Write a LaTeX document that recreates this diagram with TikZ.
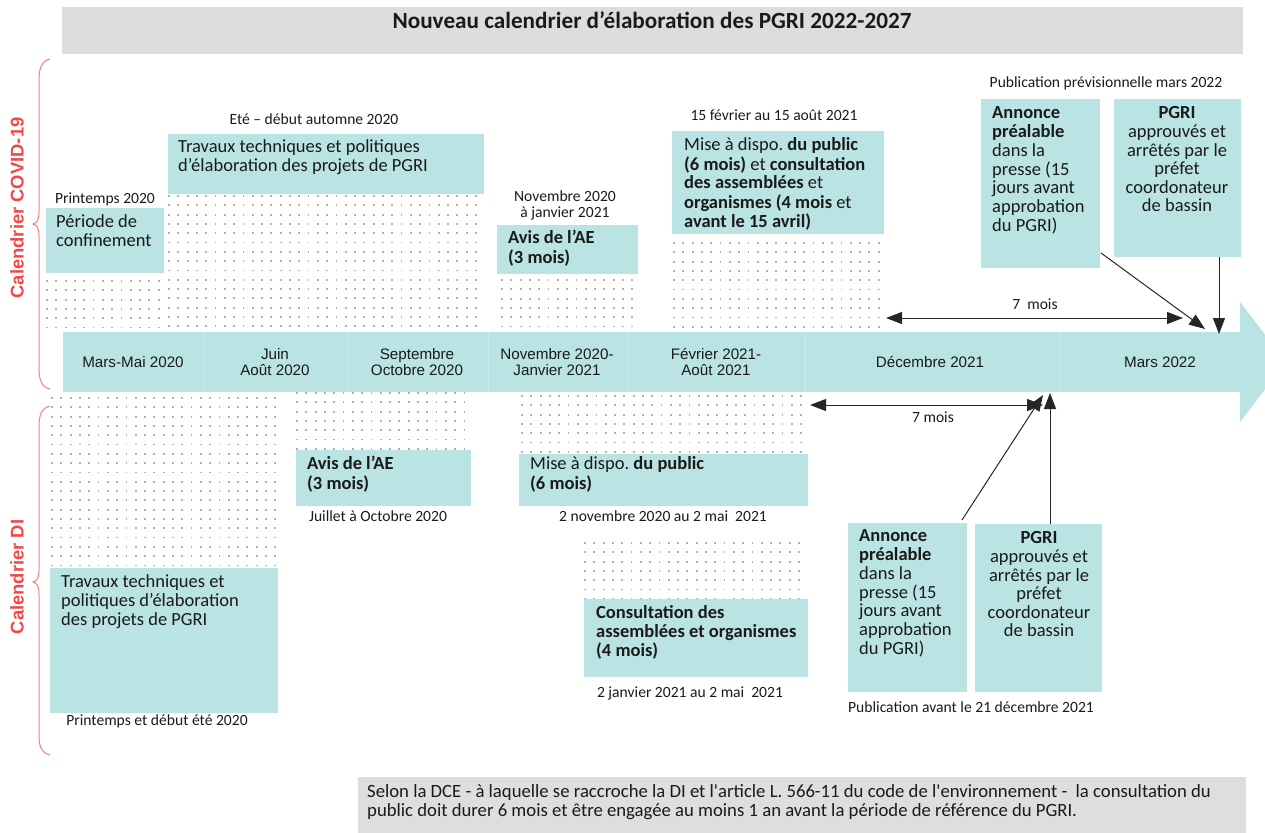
\documentclass[tikz,border=0pt]{standalone}
\usepackage{fontspec}
\setmainfont{Carlito}
\newfontfamily\arialf{Liberation Sans}
\newfontfamily\cplain{Carlito}[Ligatures=TeXOff]
\usetikzlibrary{arrows.meta}
\definecolor{boxc}{HTML}{BAE3E3}
\definecolor{sepc}{HTML}{CDEBEB}
\definecolor{dotc}{HTML}{B2B2B2}
\definecolor{titlec}{HTML}{DDDDDD}
\definecolor{notec}{HTML}{DEDEDE}
\definecolor{redt}{HTML}{F04848}
\definecolor{bracec}{HTML}{F58080}
\definecolor{txtc}{HTML}{1A1A1A}
\newcommand{\mytl}[1]{\begin{tabular}[t]{@{}l@{}}#1\end{tabular}}
\newcommand{\mytc}[1]{\begin{tabular}[t]{@{}c@{}}#1\end{tabular}}
\newcommand{\dotgrid}[4]{%
  \foreach \ii in {0,...,#3}{\foreach \jj in {0,...,#4}{%
    \fill[dotc] ({#1+\ii*9.3-0.9},{#2+\jj*9.3-0.9}) rectangle ++(1.8,1.8);}}}
\newcommand{\bx}[5]{\node[boxn, minimum width={#4-#2}, minimum height={#5-#3}, anchor=north west] (#1) at (#2,#3) {};}
\tikzset{
 boxn/.style={fill=boxc, inner sep=0pt, outer sep=0pt},
 body/.style={font=\fontsize{18.5}{18.6}\selectfont, text=txtc, inner sep=0pt, anchor=base west},
 bodyb/.style={body, font=\bfseries\fontsize{18.5}{18.6}\selectfont},
 bodyc/.style={body, anchor=base},
 lbl/.style={font=\fontsize{15.6}{16}\selectfont, text=txtc, inner sep=0pt, anchor=base},
 tline/.style={font=\arialf\fontsize{15.2}{16}\selectfont, text=txtc, inner sep=0pt, anchor=base},
 redlbl/.style={font=\arialf\bfseries\fontsize{18.4}{20}\selectfont, text=redt, rotate=90, inner sep=0pt},
 conn/.style={draw=black!85, line width=1pt, -{Triangle[length=16pt,width=12pt]}},
 biarr/.style={draw=black!85, line width=1pt, {Triangle[length=16pt,width=12pt]}-{Triangle[length=16pt,width=12pt]}},
 bracel/.style={draw=bracec, line width=1pt},
 sepl/.style={draw=sepc, line width=1pt},
}
\begin{document}
\begin{tikzpicture}[x=1pt,y=-1pt]
\useasboundingbox (0,0) rectangle (1265,832);
\clip (0,0) rectangle (1265,832);

% title
\node[fill=titlec, minimum width=1181, minimum height=47, anchor=north west, inner sep=0pt] (titlebar) at (62,7) {};
\node[font=\bfseries\fontsize{23.2}{26}\selectfont, text=txtc, anchor=base, inner sep=0pt] (title) at (652,29) {Nouveau calendrier d’élaboration des PGRI 2022-2027};

% braces and side labels
\draw[bracel] (50,59) .. controls (42,61) and (39,67) .. (39,80) -- (39,212) .. controls (39,220) and (37,223) .. (33,224) .. controls (37,225) and (39,228) .. (39,236) -- (39,368) .. controls (39,381) and (42,387) .. (50,389);
\draw[bracel] (50,406) .. controls (42,408) and (39,414) .. (39,426) -- (39,570) .. controls (39,578) and (37,581) .. (33,582) .. controls (37,583) and (39,586) .. (39,594) -- (39,735) .. controls (39,748) and (42,753) .. (50,755);
\node[redlbl] (covid) at (17,208) {Calendrier COVID-19};
\node[redlbl] (di) at (17,577) {Calendrier DI};

% dots
\dotgrid{47}{281}{12}{5}
\dotgrid{169}{196}{33}{14}
\dotgrid{502}{280}{14}{5}
\dotgrid{674}{243}{22}{9}
\dotgrid{52}{398}{24}{18}
\dotgrid{297}{393}{18}{6}
\dotgrid{522}{396}{30}{6}
\dotgrid{585}{543}{23}{6}

% timeline
\bx{cell1}{63}{332}{203}{392}
\bx{cell2}{203}{332}{347}{392}
\bx{cell3}{347}{332}{488}{392}
\bx{cell4}{488}{332}{628}{392}
\bx{cell5}{628}{332}{805}{392}
\bx{cell6}{805}{332}{1060}{392}
\bx{cell7}{1060}{332}{1241}{392}
\fill[boxc] (1240,302) -- (1286,362) -- (1240,422) -- cycle;
\foreach \c in {cell1,cell2,cell3,cell4,cell5,cell6}{\draw[sepl] (\c.north east) -- (\c.south east);}
\node[tline] (l1) at (133,367.4) {Mars-Mai 2020};
\node[tline] (l2) at (275,359.4) {\mytc{Juin\\Août 2020}};
\node[tline] (l3) at (417,359.4) {\mytc{Septembre\\Octobre 2020}};
\node[tline] (l4) at (557,359.4) {\mytc{Novembre 2020-\\Janvier 2021}};
\node[tline] (l5) at (716,359.4) {\mytc{Février 2021-\\Août 2021}};
\node[tline] (l6) at (930,367.4) {Décembre 2021};
\node[tline] (l7) at (1160,367.4) {Mars 2022};

% upper boxes
\bx{pU}{46}{208}{164}{273}
\node[body] (pUt) at (56,227.8) {\mytl{Période de\\confinement}};
\node[lbl] (pUl) at (105,203.9) {Printemps 2020};

\bx{tU}{168}{134}{484}{194}
\node[body] (tUt) at (178,152.8) {\mytl{Travaux techniques et politiques\\d’élaboration des projets de PGRI}};
\node[lbl] (tUl) at (314,124.9) {Eté – début automne 2020};

\bx{aU}{497}{225}{638}{274}
\node[bodyb] (aUt) at (508,243.8) {\mytl{Avis de l’AE\\(3 mois)}};
\node[lbl] (aUl) at (565,201.9) {\mytc{Novembre 2020\\à janvier 2021}};

\bx{mU}{672}{131}{884}{234}
\node[body] (mUt) at (684,150.8) {\mytl{Mise à dispo.\ \textbf{du public}\\\textbf{(6 mois)} et \textbf{consultation}\\\textbf{des assemblées} et\\\textbf{organismes (4 mois} et\\\textbf{avant le 15 avril)}}};
\node[lbl] (mUl) at (774,120.9) {15 février au 15 août 2021};

\bx{anU}{981}{99}{1100}{268}
\node[body] (anUt) at (992,118.8) {\mytl{\textbf{Annonce}\\\textbf{préalable}\\dans la\\presse (15\\jours avant\\approbation\\du PGRI)}};
\bx{pgU}{1114}{99}{1241}{257}
\node[bodyc] (pgUt) at (1177,118.8) {\mytc{\textbf{PGRI}\\approuvés et\\arrêtés par le\\préfet\\coordonateur\\de bassin}};
\node[lbl] (pubU) at (1106,87.9) {Publication prévisionnelle mars 2022};

% lower boxes
\bx{tL}{50}{568}{278}{713}
\node[body] (tLt) at (61,587.8) {\mytl{Travaux techniques et\\politiques d’élaboration\\des projets de PGRI}};
\node[lbl] (tLl) at (157,725.9) {Printemps et début été 2020};

\bx{aL}{296}{450}{471}{506}
\node[bodyb] (aLt) at (307,469.8) {\mytl{Avis de l’AE\\(3 mois)}};
\node[lbl] (aLl) at (378,521.9) {Juillet à Octobre 2020};

\bx{mL}{519}{454}{808}{506}
\node[body] (mLt) at (530,469.8) {\mytl{Mise à dispo.\ \textbf{du public}\\\textbf{(6 mois)}}};
\node[lbl] (mLl) at (663,521.9) {2 novembre 2020 au 2 mai~ 2021};

\bx{cL}{584}{599}{808}{677}
\node[bodyb] (cLt) at (596,618.8) {\mytl{Consultation des\\assemblées et organismes\\(4 mois)}};
\node[lbl] (cLl) at (690,697.9) {2 janvier 2021 au 2 mai~ 2021};

\bx{anL}{848}{523}{967}{692}
\node[body] (anLt) at (859,541.8) {\mytl{\textbf{Annonce}\\\textbf{préalable}\\dans la\\presse (15\\jours avant\\approbation\\du PGRI)}};
\bx{pgL}{975}{524}{1102}{692}
\node[bodyc] (pgLt) at (1039,543.8) {\mytc{\textbf{PGRI}\\approuvés et\\arrêtés par le\\préfet\\coordonateur\\de bassin}};
\node[lbl] (pubL) at (971,712.9) {Publication avant le 21 décembre 2021};

% connectors
\coordinate (u7a) at (886,318);
\coordinate (u7b) at (1183,318);
\draw[biarr] (u7a) -- (u7b);
\node[lbl] (u7) at (1035,309.9) {7~ mois};
\coordinate (anUout) at (1101,253);
\coordinate (anUin) at (1205,329);
\draw[conn] (anUout) -- (anUin);
\coordinate (pgUin) at (1219,334);
\draw[conn] (pgU.south -| pgUin) -- (pgUin);

\coordinate (l7a) at (810,405);
\coordinate (l7b) at (1043,405);
\draw[biarr] (l7a) -- (l7b);
\node[lbl] (l7m) at (933,422.9) {7 mois};
\coordinate (anLout) at (962,520);
\coordinate (anLin) at (1043,395);
\draw[conn] (anLout) -- (anLin);
\coordinate (pgLin) at (1050,393);
\draw[conn] (pgL.north -| pgLin) -- (pgLin);

% note
\node[fill=notec, minimum width=888, minimum height=60, anchor=north west, inner sep=0pt] (notebox) at (358,777) {};
\node[font=\cplain\fontsize{18.7}{19}\selectfont, text=txtc, anchor=base west, inner sep=0pt] (notet) at (367,797.5) {\mytl{Selon la DCE - à laquelle se raccroche la DI et l'article L. 566-11 du code de l'environnement -~ la consultation du\\public doit durer 6 mois et être engagée au moins 1 an avant la période de référence du PGRI.}};
\end{tikzpicture}
\end{document}
